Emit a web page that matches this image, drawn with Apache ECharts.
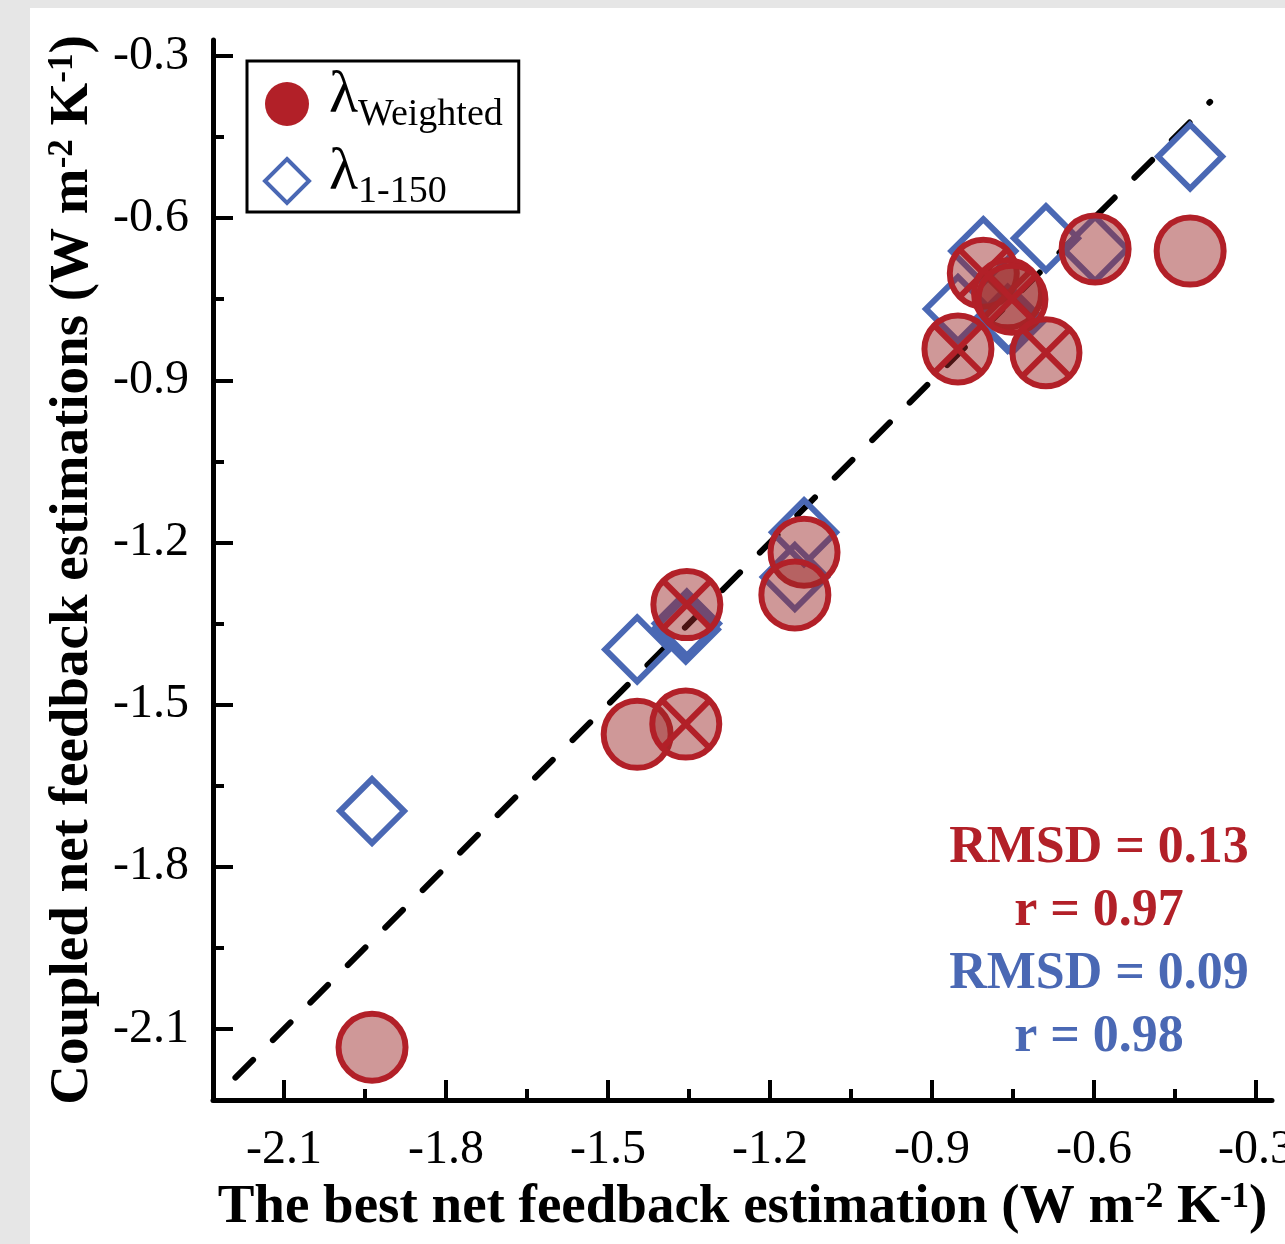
<!DOCTYPE html>
<html>
<head>
<meta charset="utf-8">
<script src="https://cdn.jsdelivr.net/npm/echarts@6/dist/echarts.min.js"></script>
<style>
  html, body { margin: 0; padding: 0; background: #e6e6e6; }
  #chart { width: 1285px; height: 1244px; }
</style>
</head>
<body>
<div id="chart"></div>
<script>
// values (W m-2 K-1)
const bestX = [-1.937, -1.446, -1.356, -1.354, -1.137, -1.154, -0.852, -0.805, -0.760, -0.752, -0.689, -0.598, -0.422]
const weightedY = [-2.134, -1.555, -1.536, -1.315, -1.218, -1.297, -0.842, -0.702, -0.740, -0.750, -0.849, -0.657, -0.661]
const rangeY = [-1.697, -1.398, -1.361, -1.350, -1.181, -1.264, -0.768, -0.661, -0.786, -0.790, -0.637, -0.657, -0.486]
const crossed = [0, 0, 1, 1, 0, 0, 1, 1, 1, 1, 1, 0, 0]
const oneToOne = [-2.19, -0.385]

const majorTicks = [-2.1, -1.8, -1.5, -1.2, -0.9, -0.6, -0.3]
const minorTicks = [-1.95, -1.65, -1.35, -1.05, -0.75, -0.45]

const stats = [
    { text: 'RMSD = 0.13', color: '#b22028' },
    { text: 'r = 0.97', color: '#b22028' },
    { text: 'RMSD = 0.09', color: '#4a68b4' },
    { text: 'r = 0.98', color: '#4a68b4' }
]

const RED = '#b22028'
const BLUE = '#4a68b4'
const FONT = '"Liberation Serif", "Times New Roman", serif'
const crossPath = 'path://M0,10A10,10,0,1,1,20,10A10,10,0,1,1,0,10ZM2.93,2.93L17.07,17.07M17.07,2.93L2.93,17.07'

const chart = echarts.init(document.getElementById('chart'))

const axisCommon = {
    type: 'value',
    min: -2.2315,
    max: -0.2704,
    splitLine: { show: false }
}
const unitRich = {
    b: { fontSize: 55, fontWeight: 'bold', fontFamily: FONT, color: '#000' },
    sup: { fontSize: 35, fontWeight: 'bold', fontFamily: FONT, color: '#000', verticalAlign: 'top', lineHeight: 32 }
}

function majorAxis (extra, margin) {
    return Object.assign({}, axisCommon, {
        axisLine: { show: true, lineStyle: { color: '#000', width: 5 } },
        axisTick: { show: true, inside: true, length: 20, customValues: majorTicks, lineStyle: { color: '#000', width: 4 } },
        axisLabel: { show: true, customValues: majorTicks, margin: margin, color: '#000', fontSize: 48, fontFamily: FONT },
        nameLocation: 'middle',
        nameTextStyle: { rich: unitRich }
    }, extra)
}
function minorAxis (extra) {
    return Object.assign({}, axisCommon, {
        axisLine: { show: false },
        axisTick: { show: true, inside: true, length: 11, customValues: minorTicks, lineStyle: { color: '#000', width: 4 } },
        axisLabel: { show: false }
    }, extra)
}

const legendRich = {
    l: { fontSize: 60, fontFamily: FONT, color: '#000', verticalAlign: 'bottom', lineHeight: 60, padding: [0, 0, 8, 15] },
    s: { fontSize: 38, fontFamily: FONT, color: '#000', verticalAlign: 'bottom', lineHeight: 44 }
}

const option = {
    backgroundColor: '#e6e6e6',
    animation: false,
    grid: { left: 213, top: 40, width: 1059, height: 1060, outerBoundsMode: 'none', containLabel: false },
    graphic: [
        { type: 'rect', z: -10, shape: { x: 30, y: 8, width: 1255, height: 1236 }, style: { fill: '#fff' } }
    ].concat(stats.map((s, i) => ({
        type: 'text',
        z: 100,
        x: 1099,
        y: 849 + i * 63,
        style: {
            text: s.text,
            fill: s.color,
            font: 'bold 52px ' + FONT,
            align: 'center',
            verticalAlign: 'middle',
            textAlign: 'center',
            textVerticalAlign: 'middle'
        }
    }))),
    legend: {
        orient: 'vertical',
        left: 247,
        top: 61,
        padding: [5, 16, 1, 16],
        itemGap: 9,
        itemWidth: 44,
        itemHeight: 44,
        backgroundColor: '#fff',
        borderColor: '#000',
        borderWidth: 3,
        selectedMode: false,
        textStyle: { rich: legendRich },
        formatter: name => name === 'weighted' ? '{l|λ}{s|Weighted}' : '{l|λ}{s|1-150}',
        data: [
            { name: 'weighted', icon: 'circle', itemStyle: { color: RED, borderWidth: 0, opacity: 1 } },
            { name: 'range', icon: 'diamond', itemStyle: { color: 'rgba(0,0,0,0)', borderColor: BLUE, borderWidth: 4 } }
        ]
    },
    xAxis: [
        majorAxis({
            position: 'bottom',
            name: '{b|The best net feedback estimation (W m}{sup|-2}{b| K}{sup|-1}{b|)}',
            nameGap: 80
        }, 26),
        minorAxis({ position: 'bottom' })
    ],
    yAxis: [
        majorAxis({
            position: 'left',
            name: '{b|Coupled net feedback estimations (W m}{sup|-2}{b| K}{sup|-1}{b|)}',
            nameGap: 113
        }, 24),
        minorAxis({ position: 'left' })
    ],
    series: [
        {
            name: 'one-to-one',
            type: 'line',
            data: oneToOne.map(v => [v, v]),
            symbol: 'none',
            silent: true,
            lineStyle: { color: '#000', width: 6, type: [25, 28], cap: 'round' },
            z: 1
        },
        {
            name: 'range',
            type: 'scatter',
            symbol: 'diamond',
            symbolSize: 64,
            data: bestX.map((x, i) => [x, rangeY[i]]),
            itemStyle: { color: 'rgba(0,0,0,0)', borderColor: BLUE, borderWidth: 6, opacity: 1 },
            z: 2
        },
        {
            name: 'weighted',
            type: 'scatter',
            symbolSize: 67,
            data: bestX.map((x, i) => ({
                value: [x, weightedY[i]],
                symbol: crossed[i] ? crossPath : 'circle'
            })),
            itemStyle: { color: 'rgba(155,40,40,0.48)', borderColor: RED, borderWidth: 6, opacity: 1 },
            z: 3
        }
    ]
}

chart.setOption(option)
</script>
</body>
</html>
